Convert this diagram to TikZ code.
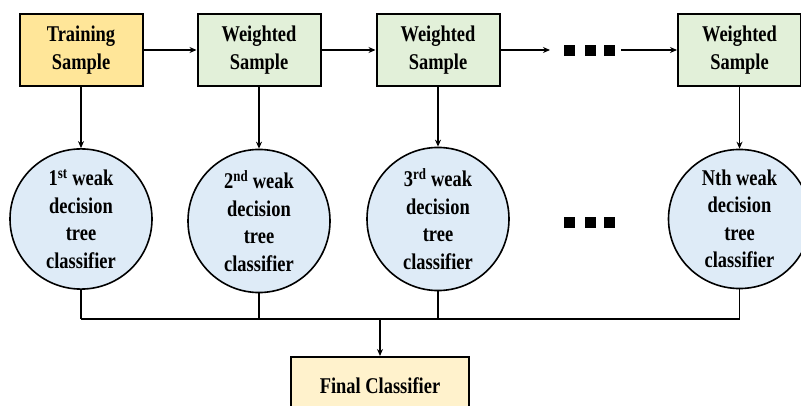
\documentclass[tikz,border=0pt]{standalone}
\usepackage{fontspec}
\setmainfont{Liberation Serif}[FakeStretch=0.82]
\usetikzlibrary{shapes.geometric,arrows.meta}
\definecolor{trainY}{HTML}{FFE699}
\definecolor{wgreen}{HTML}{E2F0D9}
\definecolor{ellblue}{HTML}{DEEBF7}
\definecolor{finalY}{HTML}{FFF2CC}
\begin{document}
\begin{tikzpicture}[x=1pt,y=-1pt,
  txt/.style={font=\fontsize{22.5}{27.5}\selectfont\bfseries},
  box/.style={txt,draw=black,line width=2pt,minimum width=123pt,minimum height=72pt,inner sep=0pt,align=center},
  clf/.style={txt,ellipse,draw=black,line width=1.6pt,fill=ellblue,minimum width=142pt,minimum height=122pt,inner sep=0pt,align=center},
  conn/.style={line width=1.6pt,-{Stealth[length=7pt,width=6pt]}},
  plain/.style={line width=1.6pt},
  sq/.style={fill=black,minimum size=11pt,inner sep=0pt}]
\useasboundingbox (0,0) rectangle (801,406);
% top row
\node[box,fill=trainY] (ts) at (81,50) {Training\\Sample};
\node[box,fill=wgreen] (w1) at (259,50) {Weighted\\Sample};
\node[box,fill=wgreen] (w2) at (438,50) {Weighted\\Sample};
\node[box,fill=wgreen] (wn) at (739.5,50) {Weighted\\Sample};
\node[sq] (ta) at (569,51) {};
\node[sq] (tb) at (590,51) {};
\node[sq] (tc) at (609,51) {};
\coordinate (g1) at (550,50);
\coordinate (g2) at (621,50);
\draw[conn] (ts) -- (w1);
\draw[conn] (w1) -- (w2);
\draw[conn] (w2.east) -- (g1);
\draw[conn] (g2) -- (wn.west);
% classifiers
\node[clf] (c1) at (81,219) {1\textsuperscript{st} weak\\decision\\tree\\classifier};
\node[clf] (c2) at (259,221) {2\textsuperscript{nd} weak\\decision\\tree\\classifier};
\node[clf] (c3) at (438,219) {3\textsuperscript{rd} weak\\decision\\tree\\classifier};
\node[clf] (c4) at (739.5,219) {Nth weak\\decision\\tree\\classifier};
\node[sq] (ma) at (569,223) {};
\node[sq] (mb) at (590,223) {};
\node[sq] (mc) at (609,223) {};
\draw[conn] (ts) -- (c1);
\draw[conn] (w1) -- (c2);
\draw[conn] (w2) -- (c3);
\draw[conn] (wn) -- (c4);
% final
\node[txt,draw=black,line width=2pt,fill=finalY,minimum width=178pt,minimum height=58pt,inner sep=0pt] (fc) at (380,386) {Final Classifier};
\coordinate (b1) at (c1.south |- 0,319);
\coordinate (b2) at (c2.south |- 0,319);
\coordinate (b3) at (c3.south |- 0,319);
\coordinate (b4) at (c4.south |- 0,319);
\coordinate (bm) at (fc.north |- 0,319);
\draw[plain] (c1.south) -- (b1);
\draw[plain] (c2.south) -- (b2);
\draw[plain] (c3.south) -- (b3);
\draw[plain] (c4.south) -- (b4);
\draw[plain] (b1) -- (b4);
\draw[conn] (bm) -- (fc.north);
\end{tikzpicture}
\end{document}
